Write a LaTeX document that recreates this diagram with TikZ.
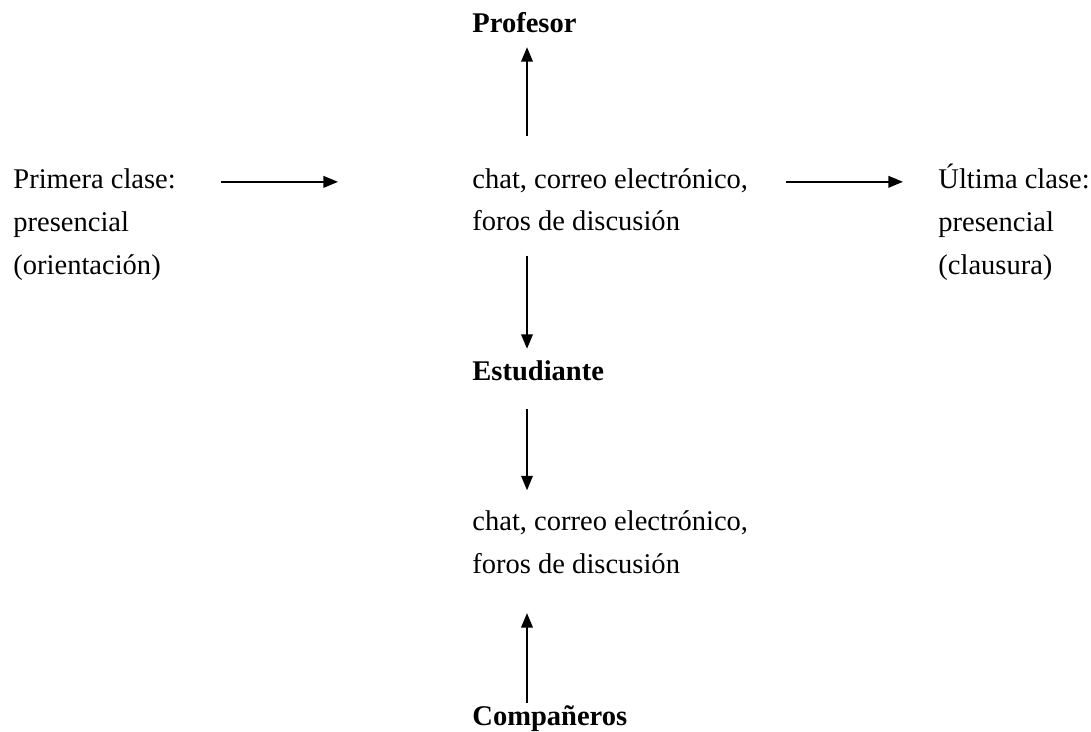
\documentclass[tikz,border=0pt]{standalone}
\usepackage{fontspec}
\setmainfont{Liberation Serif}
\usetikzlibrary{arrows.meta, positioning}
\tikzset{
  txtnode/.style={
    inner sep=0pt, anchor=base west, align=left,
    font=\fontsize{13.75}{20.7}\selectfont
  },
  rolenode/.style={txtnode, font=\fontsize{13.75}{20.7}\selectfont\bfseries},
  flowarrow/.style={-{Triangle[length=7pt, width=5.6pt]}, line width=0.8pt},
}
\begin{document}
\begin{tikzpicture}[x=0.482pt, y=-0.482pt]
  \useasboundingbox (0,0) rectangle (1091,732);
  % text blocks (placed at the baseline of their last line)
  \node[txtnode]  (first) at (13,274)  {Primera clase:\\presencial\\(orientación)};
  \node[txtnode]  (media) at (472,231) {chat, correo electrónico,\\foros de discusión};
  \node[txtnode]  (last)  at (938,274) {Última clase:\\presencial\\(clausura)};
  \node[rolenode] (prof)  at (472,33)  {Profesor};
  \node[rolenode] (estud) at (472,380) {Estudiante};
  \node[txtnode]  (peers) at (472,573) {chat, correo electrónico,\\foros de discusión};
  \node[rolenode] (comp)  at (472,725) {Compañeros};
  \coordinate (col) at (527,0);
  % arrows
  \draw[flowarrow, shorten <=21.7pt, shorten >=64.6pt]
    ([yshift=44.4pt]first.base east) -- ([yshift=44.4pt]first.base east -| media.west);
  \draw[flowarrow, shorten <=18.3pt, shorten >=16.9pt]
    ([yshift=23.7pt]media.base east) -- ([yshift=23.7pt]media.base east -| last.west);
  \draw[flowarrow, shorten <=15.1pt, shorten >=6.5pt] (media.north -| col) -- (prof.south -| col);
  \draw[flowarrow, shorten <=11.5pt, shorten >=5.3pt] (media.south -| col) -- (estud.north -| col);
  \draw[flowarrow, shorten <=13.5pt, shorten >=9.4pt] (estud.south -| col) -- (peers.north -| col);
  \draw[flowarrow, shorten <=1pt, shorten >=19pt] (comp.north -| col) -- (peers.south -| col);
\end{tikzpicture}
\end{document}
